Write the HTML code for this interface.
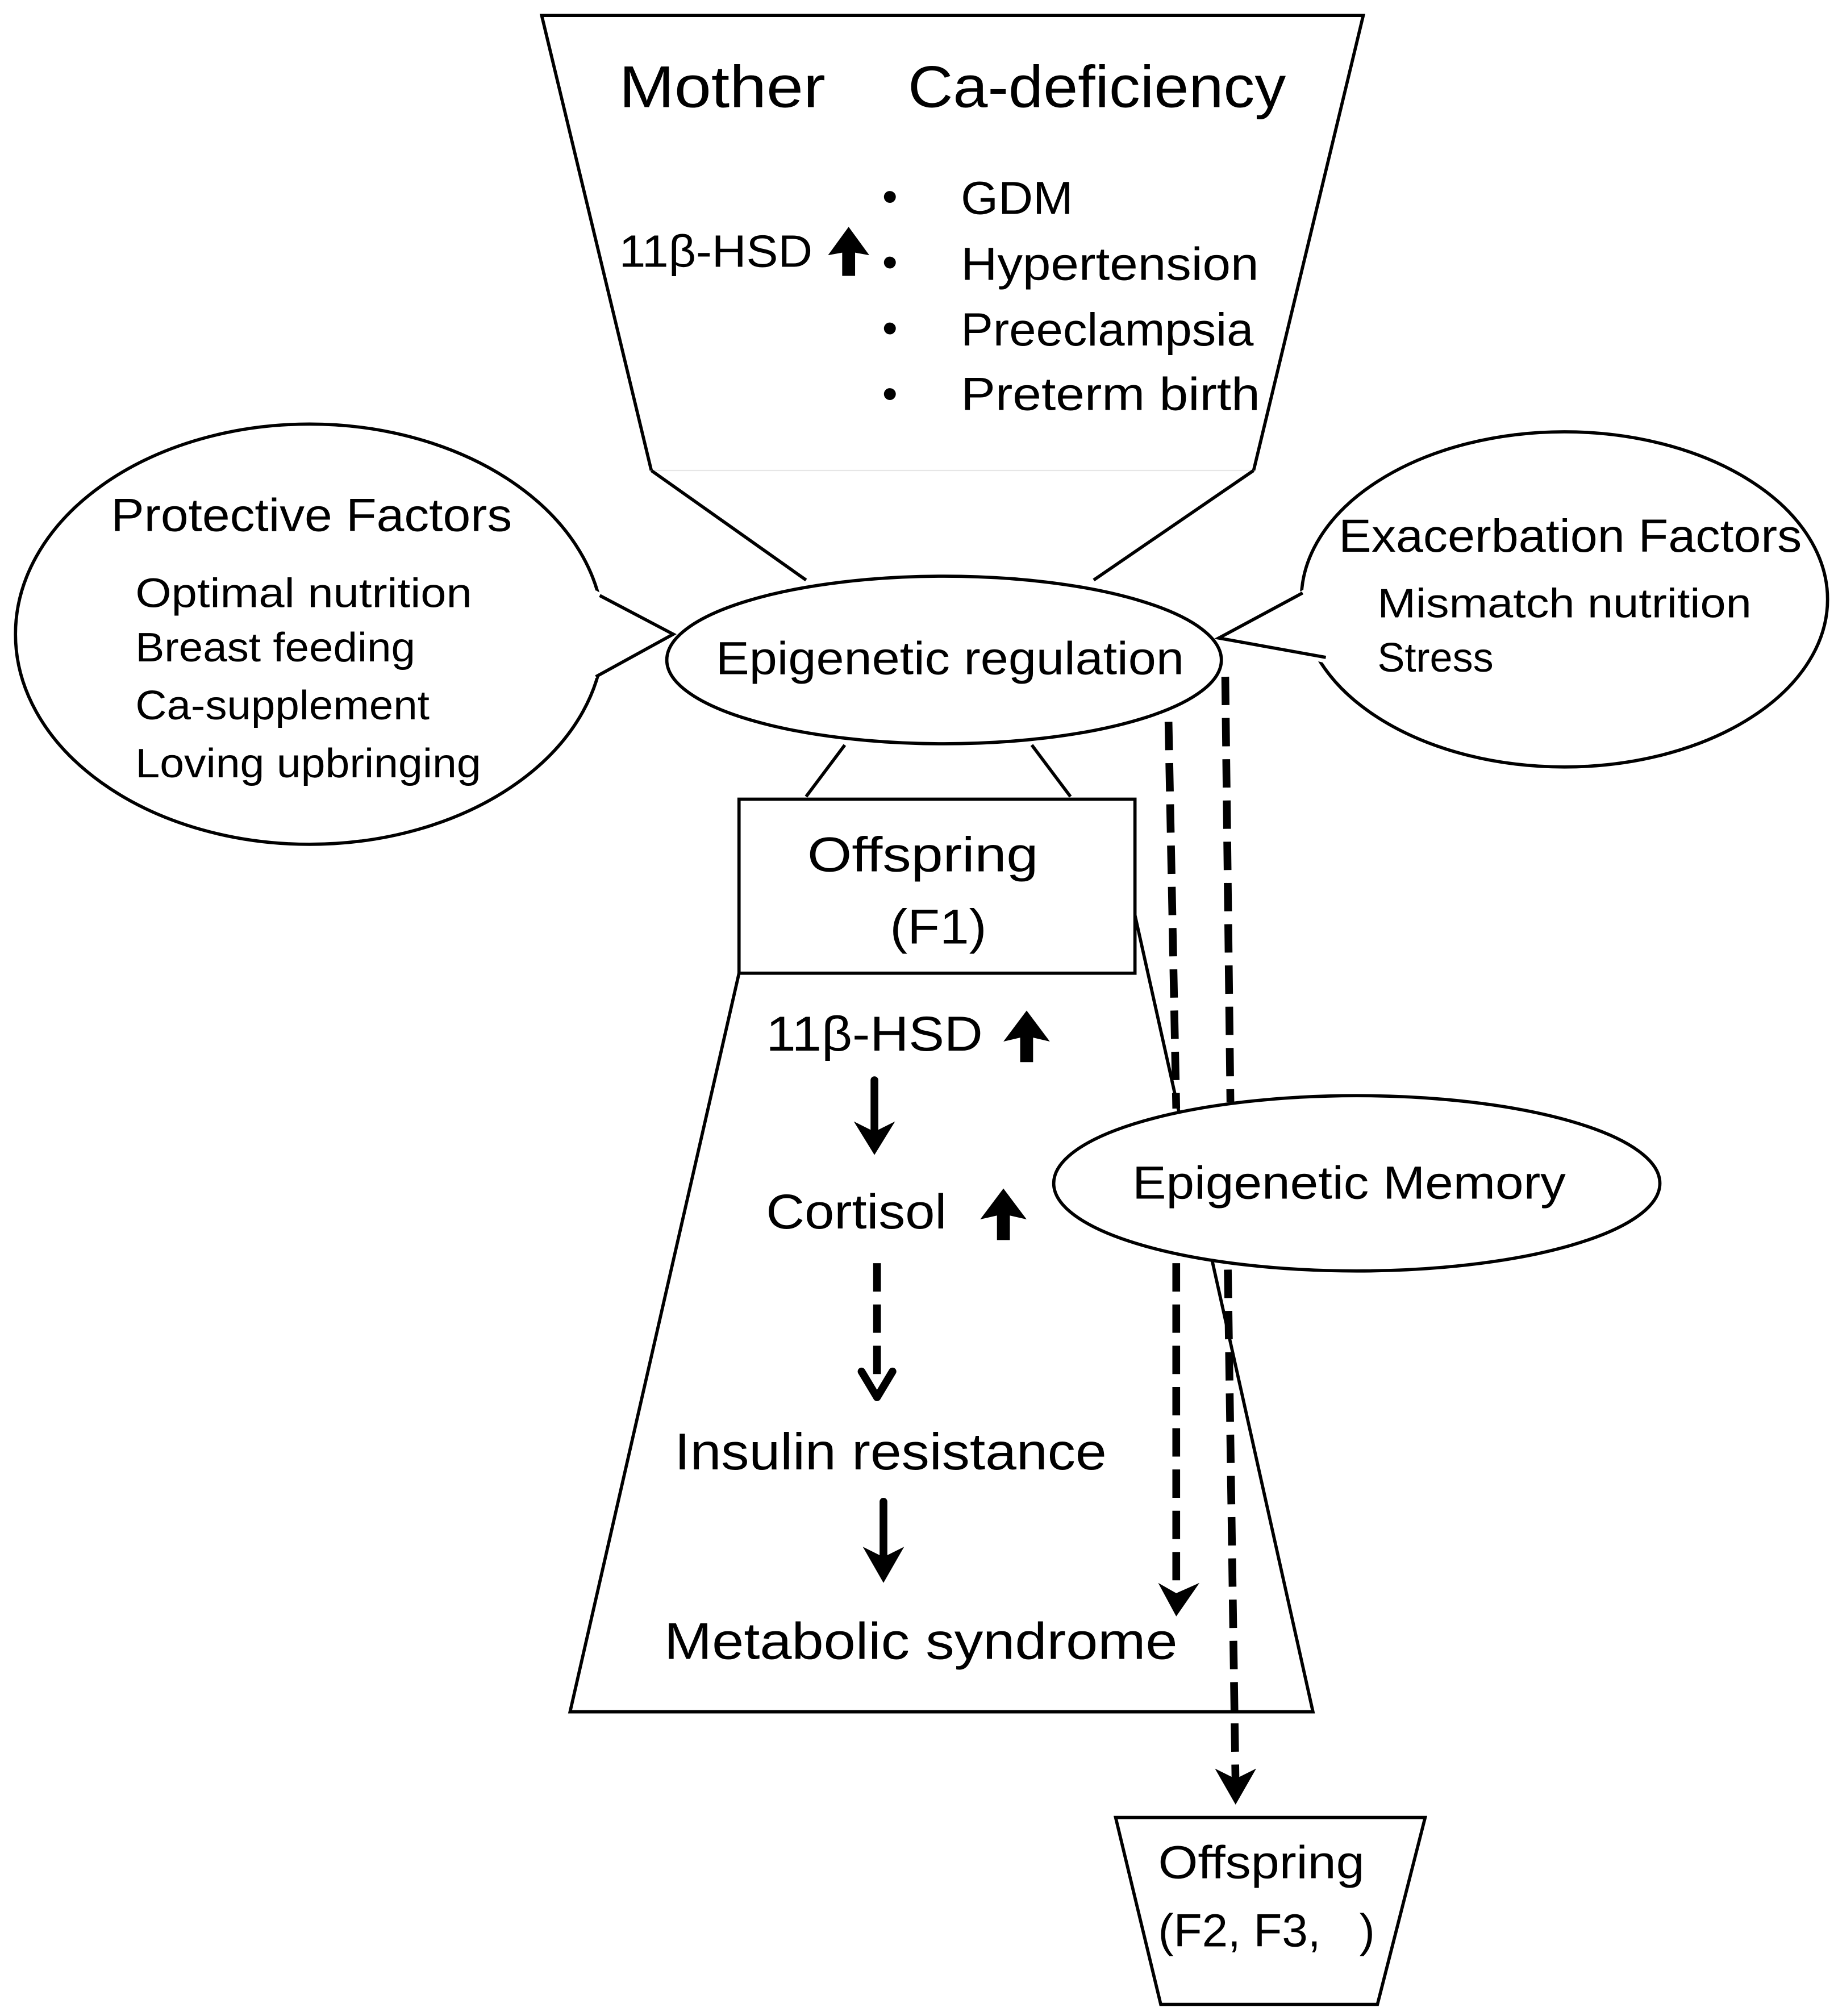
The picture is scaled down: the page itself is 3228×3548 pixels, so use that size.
<!DOCTYPE html>
<html><head><meta charset="utf-8"><style>
html,body{margin:0;padding:0;background:#fff;}
svg{display:block;}
text{font-family:"Liberation Sans",sans-serif;fill:#000;}
</style></head><body>
<svg width="3228" height="3548" viewBox="0 0 1422 1564" preserveAspectRatio="none" xmlns="http://www.w3.org/2000/svg">
<g stroke="#000" stroke-width="2.5" fill="none">
<polyline points="505,365 420,12 1057,12 972,365"/>
<line x1="505" y1="365" x2="972" y2="365" stroke="#e6e6e6" stroke-width="1"/>
<line x1="505" y1="365" x2="625" y2="450"/>
<line x1="972" y1="365" x2="848" y2="450"/>
<polyline points="573,755 442,1328 1018,1328 880,710"/>
<line x1="655" y1="578" x2="625" y2="618"/>
<line x1="800" y1="578" x2="830" y2="618"/>
<ellipse cx="240" cy="492" rx="228" ry="163" fill="#fff"/>
<ellipse cx="1213" cy="465" rx="204" ry="130" fill="#fff"/>
</g>
<polygon points="462,458 522,492 460,527 440,490" fill="#fff"/>
<polyline points="465,462 522,492 462,525" fill="none" stroke="#000" stroke-width="2.5"/>
<polygon points="1015,455 945,495 1030,515 1040,480" fill="#fff"/>
<polyline points="1010,460 945,495 1028,510" fill="none" stroke="#000" stroke-width="2.5"/>
<g stroke="#000" stroke-width="2.5">
<ellipse cx="732" cy="512" rx="215" ry="65" fill="#fff"/>
<rect x="573" y="620" width="307" height="135" fill="#fff"/>
<polygon points="865,1410 1105,1410 1068,1555 900,1555" fill="#fff"/>
</g>
<g stroke="#000" stroke-width="6" fill="none" stroke-dasharray="22,10">
<line x1="906" y1="560" x2="912" y2="860"/>
<line x1="912" y1="980" x2="912" y2="1235"/>
<line x1="950" y1="525" x2="954" y2="855"/>
<line x1="952" y1="985" x2="958" y2="1385"/>
<line x1="680" y1="980" x2="680" y2="1075"/>
</g>
<g stroke="#000" stroke-width="6" fill="none" stroke-linecap="round" stroke-linejoin="round">
<polyline points="668,1064 680,1084 692,1064"/>
<line x1="678" y1="838" x2="678" y2="885"/>
<line x1="685" y1="1165" x2="685" y2="1215"/>
</g>
<g fill="#000">
<polygon points="898,1228 912,1254 930,1228 912,1236"/>
<polygon points="942,1372 958,1400 974,1372 958,1380"/>
<polygon points="662,870 678,896 694,870 678,878"/>
<polygon points="669,1200 685,1228 701,1200 685,1208"/>
<polygon points="658,176 674,198 663,196 663,214 653,214 653,196 642,198"/>
<polygon points="796,784 814,808 801,805 801,824 791,824 791,805 778,808"/>
<polygon points="778,922 796,946 783,943 783,962 773,962 773,943 760,946"/>
</g>
<ellipse cx="1052" cy="918" rx="235" ry="68" fill="#fff" stroke="#000" stroke-width="2.5"/>
<g>
<text x="480" y="83" font-size="46" textLength="160" lengthAdjust="spacingAndGlyphs">Mother</text>
<text x="704" y="83" font-size="46" textLength="293" lengthAdjust="spacingAndGlyphs">Ca-deficiency</text>
<text x="480" y="207" font-size="35" textLength="150" lengthAdjust="spacingAndGlyphs">11β-HSD</text>
<text x="684" y="164" font-size="34">•</text><text x="745" y="166" font-size="36" textLength="87" lengthAdjust="spacingAndGlyphs">GDM</text>
<text x="684" y="215" font-size="34">•</text><text x="745" y="217" font-size="36" textLength="231" lengthAdjust="spacingAndGlyphs">Hypertension</text>
<text x="684" y="266" font-size="34">•</text><text x="745" y="268" font-size="36" textLength="227" lengthAdjust="spacingAndGlyphs">Preeclampsia</text>
<text x="684" y="317" font-size="34">•</text><text x="745" y="318" font-size="36" textLength="232" lengthAdjust="spacingAndGlyphs">Preterm birth</text>
<text x="86" y="412" font-size="36" textLength="311" lengthAdjust="spacingAndGlyphs">Protective Factors</text>
<text x="105" y="471" font-size="32" textLength="261" lengthAdjust="spacingAndGlyphs">Optimal nutrition</text>
<text x="105" y="513" font-size="32" textLength="217" lengthAdjust="spacingAndGlyphs">Breast feeding</text>
<text x="105" y="558" font-size="32" textLength="228" lengthAdjust="spacingAndGlyphs">Ca-supplement</text>
<text x="105" y="603" font-size="32" textLength="268" lengthAdjust="spacingAndGlyphs">Loving upbringing</text>
<text x="1038" y="428" font-size="36" textLength="359" lengthAdjust="spacingAndGlyphs">Exacerbation Factors</text>
<text x="1068" y="479" font-size="32" textLength="290" lengthAdjust="spacingAndGlyphs">Mismatch nutrition</text>
<text x="1068" y="521" font-size="32" textLength="90" lengthAdjust="spacingAndGlyphs">Stress</text>
<text x="555" y="523" font-size="36" textLength="363" lengthAdjust="spacingAndGlyphs">Epigenetic regulation</text>
<text x="626" y="676" font-size="38" textLength="179" lengthAdjust="spacingAndGlyphs">Offspring</text>
<text x="690" y="732" font-size="38" textLength="75" lengthAdjust="spacingAndGlyphs">(F1)</text>
<text x="594" y="815" font-size="38" textLength="168" lengthAdjust="spacingAndGlyphs">11β-HSD</text>
<text x="594" y="953" font-size="38" textLength="140" lengthAdjust="spacingAndGlyphs">Cortisol</text>
<text x="878" y="930" font-size="36" textLength="336" lengthAdjust="spacingAndGlyphs">Epigenetic Memory</text>
<text x="523" y="1140" font-size="40" textLength="335" lengthAdjust="spacingAndGlyphs">Insulin resistance</text>
<text x="515" y="1287" font-size="40" textLength="398" lengthAdjust="spacingAndGlyphs">Metabolic syndrome</text>
<text x="898" y="1457" font-size="36" textLength="160" lengthAdjust="spacingAndGlyphs">Offspring</text>
<text x="898" y="1510" font-size="36" textLength="168" lengthAdjust="spacingAndGlyphs">(F2, F3,&#160;&#160;&#160;)</text>
</g>
</svg>
</body></html>
